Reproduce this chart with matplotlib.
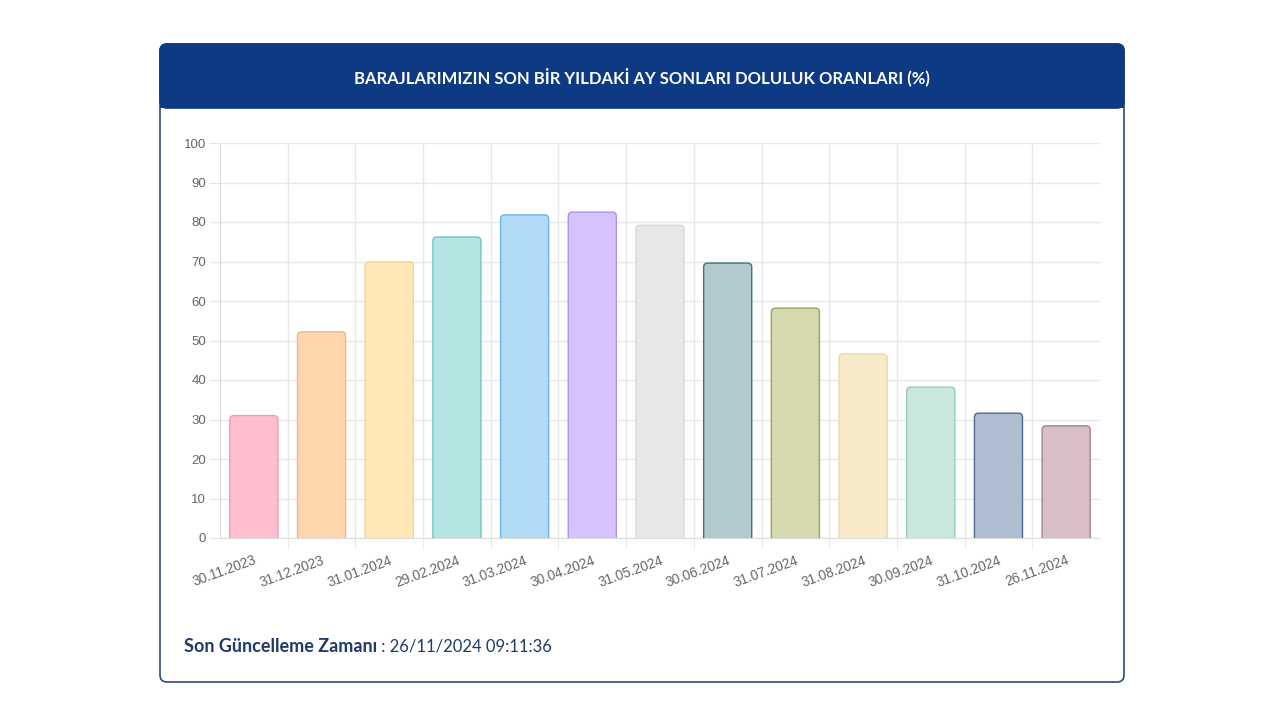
import matplotlib
matplotlib.use("Agg")
import matplotlib.pyplot as plt
from matplotlib.patches import FancyBboxPatch, Rectangle
import numpy as np

# veriler
tarihler = ['30.11.2023', '31.12.2023', '31.01.2024', '29.02.2024', '31.03.2024',
            '30.04.2024', '31.05.2024', '30.06.2024', '31.07.2024', '31.08.2024',
            '30.09.2024', '31.10.2024', '26.11.2024']
doluluk = [31.0, 52.2, 69.9, 76.2, 81.8, 82.5, 79.2, 69.6, 58.2, 46.6, 38.2, 31.6, 28.4]

dolgu = ['#ffbfcf', '#ffd6ad', '#ffe8b6', '#b3e5e3', '#b1daf7', '#d6c3fd', '#e6e7e9',
         '#b2cacf', '#d5d9ad', '#f7eac8', '#c9e7df', '#afbdd1', '#d8bec7']
kenar = ['#f29ab1', '#f1b884', '#f4d48a', '#6cc6c2', '#6fb6e8', '#ad91f2', '#d6d8db',
         '#44707a', '#98a35c', '#ebd9a6', '#93ccbe', '#4e6a91', '#a9808f']

baslik = 'BARAJLARIMIZIN SON BİR YILDAKİ AY SONLARI DOLULUK ORANLARI (%)'

W, H = 1280, 720
fig = plt.figure(figsize=(12.8, 7.2), dpi=100, facecolor='white')

# kart ve baslik bandi (piksel koordinatlari)
bg = fig.add_axes([0, 0, 1, 1])
bg.set_xlim(0, W)
bg.set_ylim(H, 0)
bg.axis('off')

bg.add_patch(FancyBboxPatch((160, 44), 964, 638, boxstyle='round,pad=0,rounding_size=7',
                            facecolor='white', edgecolor='#2c4a78', linewidth=1.2))
bg.add_patch(FancyBboxPatch((160, 44), 964, 64, boxstyle='round,pad=0,rounding_size=7',
                            facecolor='#0e3a84', edgecolor='#0e3a84', linewidth=1.2))
bg.add_patch(Rectangle((160, 80), 964, 28, facecolor='#0e3a84', edgecolor='none'))
bg.text(642, 77, baslik, color='white', fontsize=12, fontweight='bold',
        family='Lato', ha='center', va='center')

t1 = bg.text(184, 647, 'Son Güncelleme Zamanı', color='#1f3a68', fontsize=13,
             fontweight='bold', family='Lato', ha='left', va='center')
bg.annotate(' : 26/11/2024 09:11:36', xy=(1, 0.5), xycoords=t1, va='center',
            ha='left', color='#1f3a68', fontsize=12, family='Lato')

# grafik
ax = fig.add_axes([220 / W, (H - 538) / H, 880 / W, (538 - 143) / H])
ax.set_facecolor('none')
x = np.arange(len(tarihler))
cubuklar = ax.bar(x, doluluk, width=0.71, alpha=0)

ax.set_xlim(-0.5, len(tarihler) - 0.5)
ax.set_ylim(0, 100)

# yuvarlak koseli cubuklar
asp = (1 / 3.95) / (1 / 67.7)
for rect, fc, ec in zip(cubuklar, dolgu, kenar):
    x0 = rect.get_x()
    w = rect.get_width()
    h = rect.get_height()
    p = FancyBboxPatch((x0, -5), w, h + 5,
                       boxstyle='round,pad=0,rounding_size=0.06',
                       mutation_aspect=asp, facecolor=fc, edgecolor=ec,
                       linewidth=1.0, zorder=3)
    ax.add_patch(p)

for s in ['top', 'right']:
    ax.spines[s].set_visible(False)
ax.spines['left'].set_color('#dcdcdc')
ax.spines['bottom'].set_color('#dcdcdc')

ax.set_yticks(np.arange(0, 101, 10))
ax.set_xticks(x[:-1] + 0.5, minor=True)
ax.set_xticks(x)
ax.set_xticklabels(tarihler, rotation=20, ha='right', rotation_mode='anchor',
                   fontsize=9.8, color='#666666', family='Liberation Sans')
ax.tick_params(axis='x', which='major', length=0, pad=11)
ax.tick_params(axis='x', which='minor', length=8, color='#e6e6e6')
ax.tick_params(axis='y', length=8, color='#e6e6e6', labelsize=9.5,
               labelcolor='#666666', pad=2)
for lb in ax.get_yticklabels():
    lb.set_family('Liberation Sans')

ax.grid(axis='y', color='#e8e8e8', linewidth=1, zorder=0)
ax.grid(axis='x', which='minor', color='#e8e8e8', linewidth=1, zorder=0)
ax.set_axisbelow(True)

fig.savefig('out.png', dpi=100, facecolor='white')
